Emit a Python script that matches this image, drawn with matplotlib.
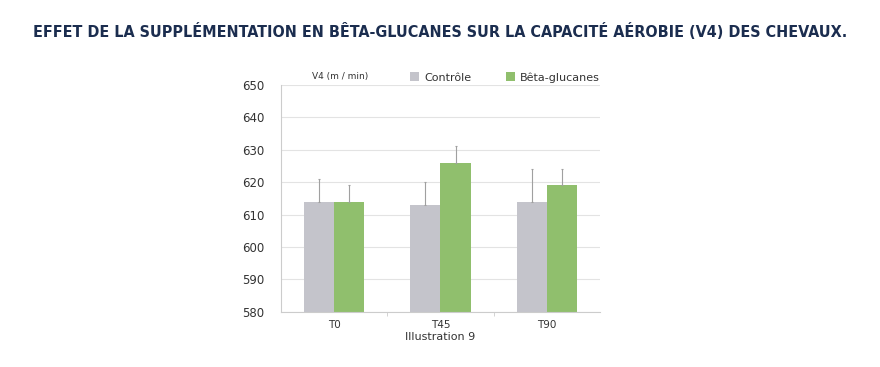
import matplotlib
matplotlib.use("Agg")
import matplotlib.pyplot as plt
import numpy as np

categories = ["T0", "T45", "T90"]
controle = [614, 613, 614]
beta = [614, 626, 619]
controle_err = [7, 7, 10]
beta_err = [5, 5, 5]
series_names = ["Contrôle", "Bêta-glucanes"]
yticks = [580, 590, 600, 610, 620, 630, 640, 650]

c_gray = "#c4c4cb"
c_green = "#90bf6d"
navy = "#1b2d4f"
text_c = "#333333"

fig = plt.figure(figsize=(8.8, 3.67), dpi=100)
ax = fig.add_axes([0.319, 0.150, 0.363, 0.619])

x = np.arange(len(categories))
w = 0.285
ax.bar(x - w/2, controle, w, color=c_gray, label=series_names[0], zorder=2)
ax.bar(x + w/2, beta, w, color=c_green, label=series_names[1], zorder=2)
err_kw = dict(fmt="none", ecolor="#a0a0a0", elinewidth=0.8, capsize=1.0, capthick=0.8, zorder=3)
ax.errorbar(x - w/2, controle, yerr=[np.zeros(3), controle_err], **err_kw)
ax.errorbar(x + w/2, beta, yerr=[np.zeros(3), beta_err], **err_kw)

ax.set_xlim(-0.5, 2.5)
ax.set_ylim(580, 650)
ax.set_yticks(yticks)
ax.set_yticklabels([str(v) for v in yticks], fontsize=8.5, color=text_c)
ax.set_xticks(x)
ax.set_xticklabels(categories, fontsize=7.5, color=text_c)
ax.tick_params(axis="x", length=0, pad=6)
ax.tick_params(axis="y", length=0, pad=12)
ax.set_xticks([0.5, 1.5], minor=True)
ax.tick_params(axis="x", which="minor", length=3, color="#cccccc", direction="out")
ax.yaxis.grid(True, color="#e3e3e3", linewidth=0.8, zorder=0)
ax.set_axisbelow(True)
for s in ["top", "right"]:
    ax.spines[s].set_visible(False)
ax.spines["left"].set_color("#cccccc")
ax.spines["bottom"].set_color("#cccccc")
ax.set_xlabel("Illustration 9", fontsize=8, color=text_c, labelpad=1)

fig.text(0.355, 0.792, "V4 (m / min)", fontsize=6.5, color=text_c, ha="left", va="center")
leg = ax.legend(loc="lower left", bbox_to_anchor=(0.39, 0.99), ncol=2, frameon=False,
                fontsize=8, handlelength=0.8, handleheight=0.8, columnspacing=3.1,
                handletextpad=0.5, borderaxespad=0)
for t in leg.get_texts():
    t.set_color(text_c)

fig.text(0.5, 0.915, "EFFET DE LA SUPPLÉMENTATION EN BÊTA-GLUCANES SUR LA CAPACITÉ AÉROBIE (V4) DES CHEVAUX.",
         ha="center", va="center", fontsize=11.5, fontweight="bold", color=navy,
         family="DejaVu Sans", fontstretch="condensed")

fig.savefig("out.png", dpi=100)
